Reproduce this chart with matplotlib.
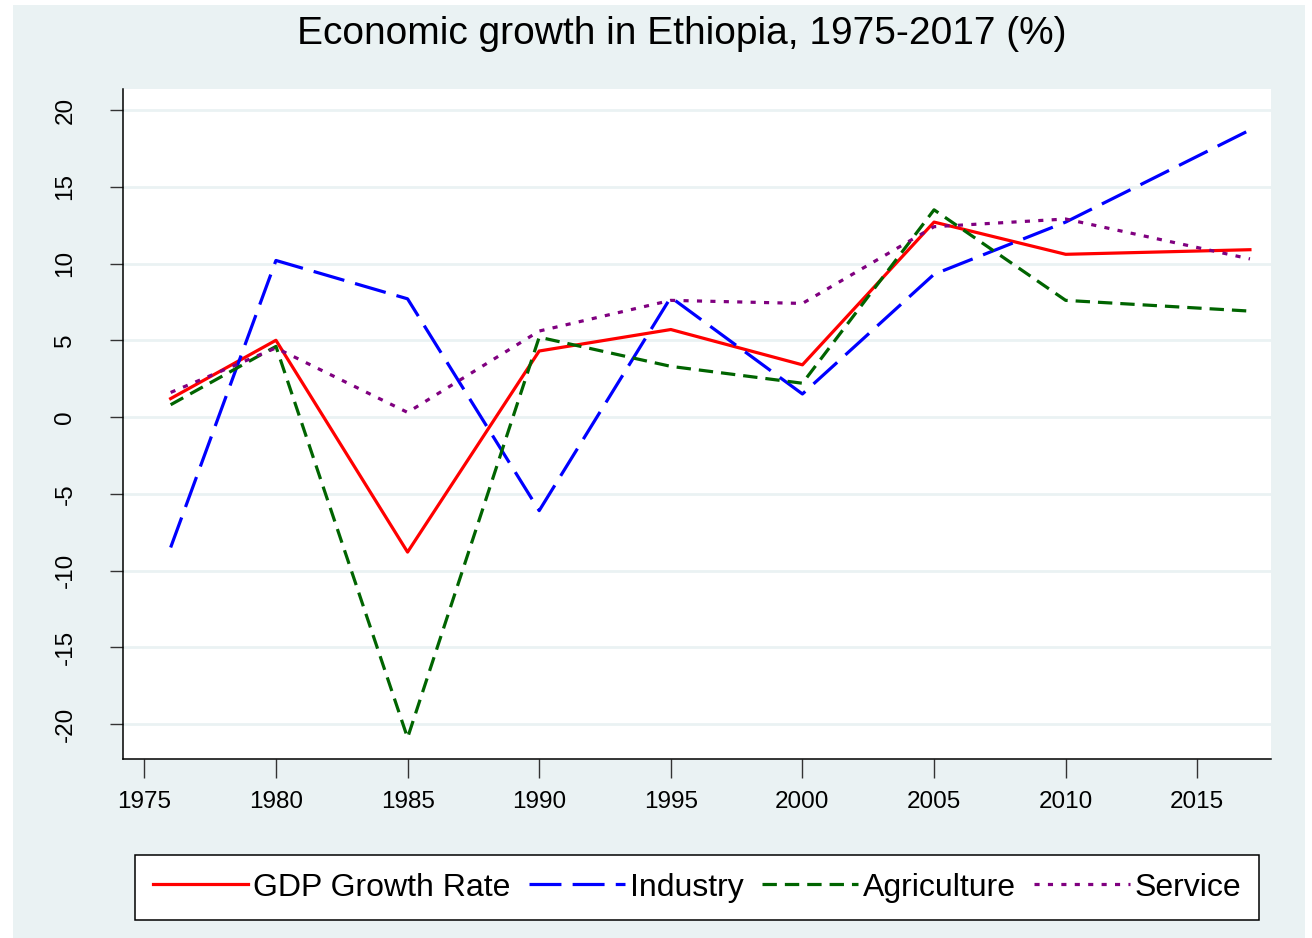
import matplotlib
matplotlib.use('Agg')
from matplotlib import pyplot as plt
from matplotlib.patches import Rectangle

plt.rcParams['font.family'] = ['Liberation Sans', 'DejaVu Sans']
plt.rcParams['axes.unicode_minus'] = False

years = [1976, 1980, 1985, 1990, 1995, 2000, 2005, 2010, 2017]
gdp = [1.2, 5.0, -8.8, 4.3, 5.7, 3.4, 12.7, 10.6, 10.9]
industry = [-8.5, 10.2, 7.7, -6.1, 7.8, 1.5, 9.3, 12.7, 18.7]
agriculture = [0.8, 4.6, -20.9, 5.2, 3.3, 2.2, 13.5, 7.6, 6.9]
service = [1.6, 4.5, 0.3, 5.6, 7.6, 7.4, 12.4, 12.9, 10.3]

xticks = [1975, 1980, 1985, 1990, 1995, 2000, 2005, 2010, 2015]
yticks = [-20, -15, -10, -5, 0, 5, 10, 15, 20]

bg = '#EAF2F3'

fig = plt.figure(figsize=(13.12, 9.38), dpi=100, facecolor='white')
fig.add_artist(Rectangle((13 / 1312, 0), (1305 - 13) / 1312, 1 - 5 / 938,
                         transform=fig.transFigure, facecolor=bg,
                         edgecolor='none', zorder=-10))

ax = fig.add_axes([123 / 1312, 1 - 759 / 938, (1271 - 123) / 1312, (759 - 89) / 938])
ax.set_facecolor('white')

lw = 2.3
ax.plot(years, gdp, color='#FF0000', lw=lw, label='GDP Growth Rate', zorder=3)
ax.plot(years, industry, color='#0000FF', lw=lw, dashes=(10, 3.5), label='Industry', zorder=3)
ax.plot(years, agriculture, color='#006400', lw=lw, dashes=(4.5, 2.5), label='Agriculture', zorder=3)
ax.plot(years, service, color='#800080', lw=lw, dashes=(1.6, 2.6), label='Service', zorder=3)

ax.set_xlim(1974.19, 2017.8)
ax.set_ylim(-22.28, 21.37)
ax.set_xticks(xticks)
ax.set_yticks(yticks)

ax.yaxis.grid(True, color=bg, lw=2.0)
ax.set_axisbelow(True)

for s in ['top', 'right']:
    ax.spines[s].set_visible(False)
for s in ['left', 'bottom']:
    ax.spines[s].set_linewidth(1.1)
    ax.spines[s].set_color('black')

ax.tick_params(axis='x', length=14, width=1.0, color='#333333', labelsize=17.5, pad=9)
ax.tick_params(axis='y', length=9.5, width=1.0, color='#333333', labelsize=17.5, pad=24,
               labelrotation=90)
for lab in ax.get_yticklabels():
    lab.set_va('center')

fig.text(681.5 / 1312, 1 - 34 / 938, 'Economic growth in Ethiopia, 1975-2017 (%)',
         ha='center', va='center', fontsize=28)

leg = fig.legend(loc='center', ncol=4, mode='expand',
                 bbox_to_anchor=(135 / 1312, 1 - 918 / 938, (1259 - 135) / 1312, 61 / 938),
                 fontsize=23, handlelength=3.0, handletextpad=0.15, columnspacing=0.9,
                 borderpad=0.55, borderaxespad=0, fancybox=False, framealpha=1)
leg.get_frame().set_edgecolor('black')
leg.get_frame().set_linewidth(1.1)

plt.savefig('out.png', dpi=100, facecolor=fig.get_facecolor())
